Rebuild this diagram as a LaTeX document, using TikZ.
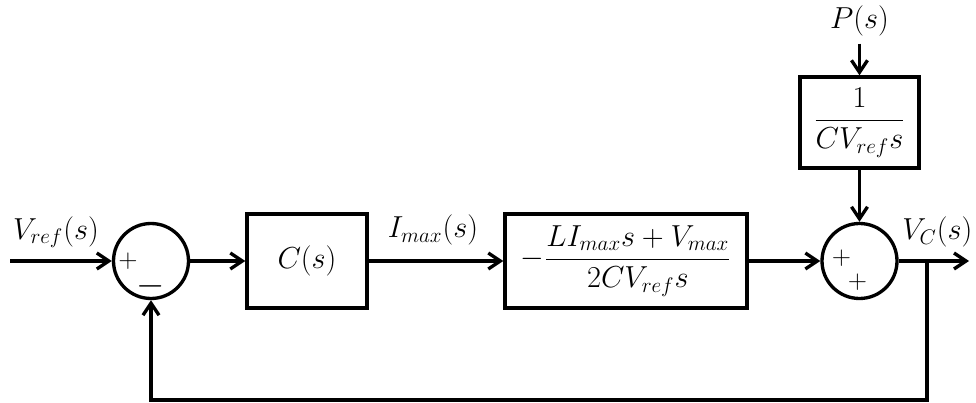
\documentclass[tikz,border=0pt]{standalone}
\usepackage{amsmath}
\usetikzlibrary{arrows.meta,calc}

\begin{document}
\begin{tikzpicture}[line width=1.9pt,font=\LARGE,
  >={Straight Barb[length=2.4mm,width=3.2mm]},
  blockbox/.style={draw,minimum height=1.88cm,inner sep=0pt},
  sumnode/.style={draw,circle,minimum size=1.5cm,inner sep=0pt},
  sign/.style={font=\Large,inner sep=0pt}]
  \useasboundingbox (0,0) rectangle (19.52,-8.06);

  % blocks and summing points
  \node[sumnode] (sumA) at (3.02,-5.22) {};
  \node[blockbox,minimum width=2.4cm] (ctrl) at (6.14,-5.22) {$C(s)$};
  \node[blockbox,minimum width=4.84cm] (plant) at (12.52,-5.22)
    {$-\dfrac{LI_{max}s+V_{max}}{2CV_{ref}s}$};
  \node[sumnode] (sumB) at (17.19,-5.22) {};
  \node[blockbox,minimum width=2.38cm,minimum height=1.82cm] (dist)
    at (17.19,-2.45) {$\dfrac{1}{CV_{ref}s}$};
  \node (Pin) at (17.19,-0.42) {$P(s)$};

  \node[sign] (sgnA1) at ($(sumA)+(-0.46,0)$) {$+$};
  \node[sign,font=\huge] (sgnA2) at ($(sumA)+(0,-0.5)$) {$-$};
  \node[sign] (sgnB1) at ($(sumB)+(-0.36,0.06)$) {$+$};
  \node[sign] (sgnB2) at ($(sumB)+(-0.04,-0.42)$) {$+$};

  \coordinate (vin) at (0.2,-5.22);
  \coordinate (vout) at (19.38,-5.22);
  \coordinate (tap) at (18.54,-5.22);
  \coordinate (fbR) at (18.54,-8.0);

  % signal lines
  \draw[->] (vin) -- (sumA.west);
  \draw[->] (sumA.east) -- (ctrl.west);
  \draw[->] (ctrl.east) -- (plant.west);
  \draw[->] (plant.east) -- (sumB.west);
  \draw[->] (Pin.south) -- (dist.north);
  \draw[->] (dist.south) -- (sumB.north);
  \draw[->] (sumB.east) -- (vout);
  \draw[->] (tap) -- (fbR) -| (sumA.south);

  % signal names
  \node (lblVref) at (1.12,-4.64) {$V_{ref}(s)$};
  \node (lblImax) at (8.66,-4.6) {$I_{max}(s)$};
  \node[anchor=east,inner sep=0pt] (lblVc) at (19.48,-4.64) {$V_C(s)$};
\end{tikzpicture}
\end{document}
